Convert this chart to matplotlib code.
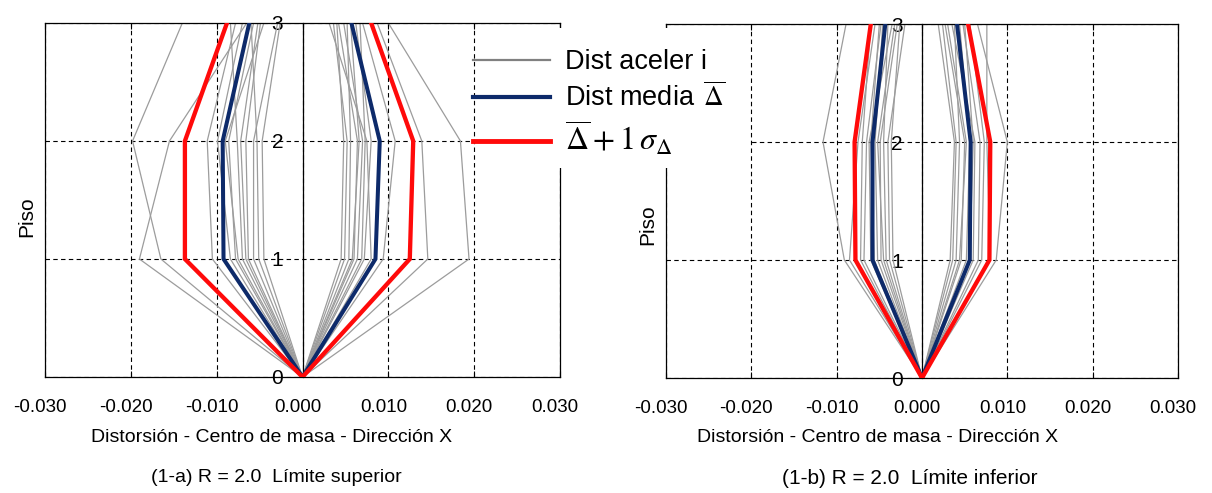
import matplotlib
matplotlib.use("Agg")
import matplotlib.pyplot as plt
import matplotlib.transforms as mtransforms
from matplotlib.lines import Line2D
from matplotlib.patches import Rectangle

plt.rcParams['font.family'] = ['Liberation Sans', 'DejaVu Sans']
plt.rcParams['mathtext.fontset'] = 'stix'

# ---------------- data ----------------
pisos = [0, 1, 2, 3]
x_ticks = [-0.030, -0.020, -0.010, 0.000, 0.010, 0.020, 0.030]
x_tick_labels = ['-0.030', '-0.020', '-0.010', '0.000', '0.010', '0.020', '0.030']
y_ticks = [0, 1, 2, 3]
y_tick_labels = ['0', '1', '2', '3']

# Panel (1-a): drift at floors 1, 2, 3 (floor 0 = 0)
a_neg_records = [
    [-0.0190, -0.0155, -0.0065],
    [-0.0165, -0.0198, -0.0140],
    [-0.0105, -0.0111, -0.0078],
    [-0.0084, -0.0099, -0.0070],
    [-0.0078, -0.0086, -0.0057],
    [-0.0070, -0.0076, -0.0084],
    [-0.0063, -0.0066, -0.0049],
    [-0.0057, -0.0057, -0.0029],
    [-0.0051, -0.0053, -0.0060],
    [-0.0045, -0.0047, -0.0026],
    [-0.0075, -0.0090, -0.0045],
    [-0.0066, -0.0072, -0.0052],
]
a_pos_records = [
    [0.0194, 0.0184, 0.0100],
    [0.0146, 0.0139, 0.0087],
    [0.0094, 0.0108, 0.0070],
    [0.0080, 0.0075, 0.0031],
    [0.0069, 0.0073, 0.0067],
    [0.0060, 0.0064, 0.0042],
    [0.0054, 0.0056, 0.0052],
    [0.0045, 0.0048, 0.0040],
    [0.0058, 0.0066, 0.0056],
    [0.0072, 0.0080, 0.0062],
    [0.0049, 0.0052, 0.0036],
    [0.0064, 0.0070, 0.0048],
]
a_mean_neg = [-0.0092, -0.0093, -0.0062]
a_mean_pos = [0.0085, 0.0090, 0.0057]
a_sig_neg = [-0.0137, -0.0137, -0.0088]
a_sig_pos = [0.0125, 0.0129, 0.0080]

# Panel (1-b)
b_neg_records = [
    [-0.0091, -0.0116, -0.0089],
    [-0.0085, -0.0075, -0.0055],
    [-0.0068, -0.0065, -0.0048],
    [-0.0060, -0.0062, -0.0035],
    [-0.0052, -0.0055, -0.0046],
    [-0.0048, -0.0049, -0.0029],
    [-0.0042, -0.0045, -0.0040],
    [-0.0038, -0.0040, -0.0020],
    [-0.0056, -0.0060, -0.0050],
    [-0.0045, -0.0052, -0.0032],
    [-0.0072, -0.0070, -0.0060],
    [-0.0034, -0.0036, -0.0026],
]
b_pos_records = [
    [0.0087, 0.0100, 0.0065],
    [0.0080, 0.0076, 0.0076],
    [0.0066, 0.0068, 0.0048],
    [0.0060, 0.0062, 0.0035],
    [0.0052, 0.0056, 0.0044],
    [0.0046, 0.0050, 0.0027],
    [0.0040, 0.0044, 0.0038],
    [0.0033, 0.0038, 0.0019],
    [0.0056, 0.0060, 0.0050],
    [0.0044, 0.0052, 0.0030],
    [0.0070, 0.0073, 0.0056],
    [0.0036, 0.0040, 0.0024],
]
b_mean_neg = [-0.0058, -0.0058, -0.0043]
b_mean_pos = [0.0056, 0.0057, 0.0041]
b_sig_neg = [-0.0078, -0.0079, -0.0060]
b_sig_pos = [0.0079, 0.0080, 0.0054]

xlabel_text = 'Distorsión - Centro de masa - Dirección X'
ylabel_text = 'Piso'
captions = ['(1-a) R = 2.0  Límite superior', '(1-b) R = 2.0  Límite inferior']
legend_labels = ['Dist aceler i', r'Dist media $\,\overline{\Delta}$',
                 r'$\overline{\Delta}+1\,\sigma_{\Delta}$']

# ---------------- style ----------------
GREY = '#9c9c9c'
NAVY = '#0d2a6a'
RED = '#ff0a0a'

W, H = 1212, 493
fig = plt.figure(figsize=(W / 100, H / 100), dpi=100)


def fx(px):
    return px / W


def fy(py):
    return 1 - py / H


panels = [
    dict(rect=[fx(45), fy(377), fx(560 - 45), (377 - 23) / H],
         neg=a_neg_records, pos=a_pos_records,
         mneg=a_mean_neg, mpos=a_mean_pos, sneg=a_sig_neg, spos=a_sig_pos,
         xl=(272, 438), yl=(27, 217), cap=(276, 478, 14)),
    dict(rect=[fx(666), fy(378), fx(1178 - 666), (378 - 24) / H],
         neg=b_neg_records, pos=b_pos_records,
         mneg=b_mean_neg, mpos=b_mean_pos, sneg=b_sig_neg, spos=b_sig_pos,
         xl=(878, 438), yl=(648, 225), cap=(910, 478, 15)),
]

xoff = mtransforms.ScaledTranslation(-5 / 100, 0, fig.dpi_scale_trans)

for i, p in enumerate(panels):
    ax = fig.add_axes(p['rect'])
    for rec in p['neg'] + p['pos']:
        ax.plot([0] + rec, pisos, color=GREY, lw=0.9, zorder=2)
    for m in (p['mneg'], p['mpos']):
        ax.plot([0] + m, pisos, color=NAVY, lw=2.9, zorder=3, solid_joinstyle='miter')
    for s in (p['sneg'], p['spos']):
        ax.plot([0] + s, pisos, color=RED, lw=3.1, zorder=4, solid_joinstyle='miter')

    ax.set_xlim(-0.030, 0.030)
    ax.set_ylim(0, 3)
    ax.set_xticks(x_ticks)
    ax.set_xticklabels(x_tick_labels)
    ax.set_yticks(y_ticks)
    ax.set_yticklabels(y_tick_labels)
    ax.grid(True, color='black', linestyle=(0, (4, 3)), linewidth=0.8)
    ax.set_axisbelow(True)

    # y axis through the origin
    ax.spines['left'].set_position(('data', 0))
    for sp in ax.spines.values():
        sp.set_linewidth(0.9)
    ax.plot([0, 0], [0, 1], transform=ax.transAxes, color='black', lw=0.9,
            clip_on=False, zorder=1.5)

    ax.tick_params(axis='x', direction='in', length=4, labelsize=13.5, pad=16,
                   top=True)
    ax.tick_params(axis='y', length=0, labelsize=15, pad=14)
    for lab in ax.get_xticklabels():
        lab.set_transform(lab.get_transform() + xoff)

    fig.text(fx(p['xl'][0]), fy(p['xl'][1]), xlabel_text, fontsize=14,
             ha='center', va='center')
    fig.text(fx(p['yl'][0]), fy(p['yl'][1]), ylabel_text, rotation=90,
             fontsize=15, ha='center', va='center')
    fig.text(fx(p['cap'][0]), fy(p['cap'][1]), captions[i], fontsize=p['cap'][2],
             ha='center', va='center')

# white box behind legend text
fig.add_artist(Rectangle((fx(547), fy(168)), fx(750 - 547), (168 - 28) / H,
                         transform=fig.transFigure, facecolor='white',
                         edgecolor='none', zorder=3))

handles = [Line2D([], [], color='#808080', lw=1.6),
           Line2D([], [], color=NAVY, lw=3.0),
           Line2D([], [], color=RED, lw=3.5)]
leg = fig.legend(handles, legend_labels, loc='upper left',
                 bbox_to_anchor=(fx(473), fy(49)), frameon=False, fontsize=19.5,
                 handlelength=2.85, handletextpad=0.55, labelspacing=0.28,
                 borderpad=0, borderaxespad=0)
leg.get_texts()[2].set_fontsize(23)

fig.savefig('out.png', dpi=100)
